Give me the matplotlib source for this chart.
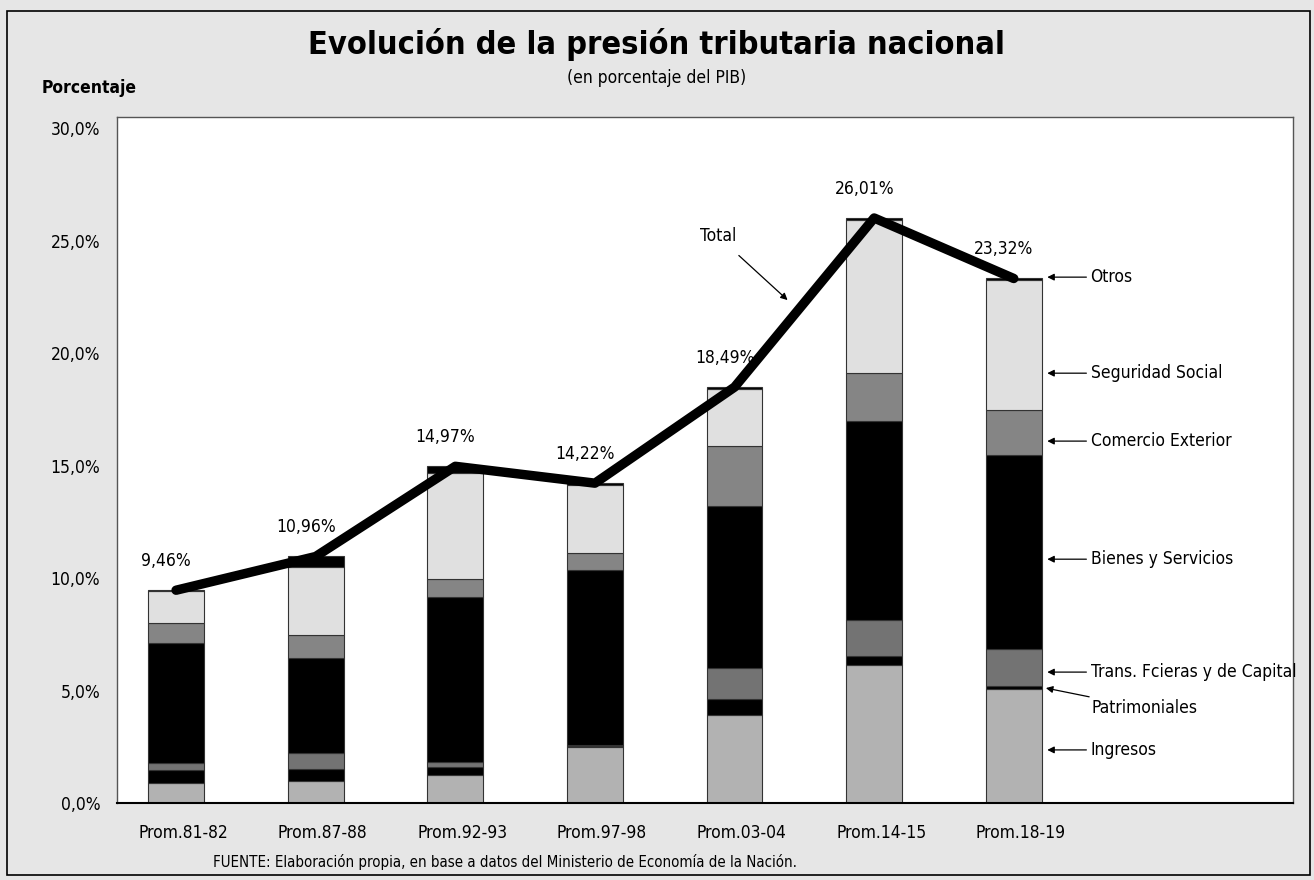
import matplotlib
matplotlib.use("Agg")
import matplotlib.pyplot as plt
from matplotlib import patches, font_manager
from matplotlib.transforms import ScaledTranslation

names = set(f.name for f in font_manager.fontManager.ttflist)
if "Liberation Sans Narrow" in names:
    NARROW = dict(family="Liberation Sans Narrow")
else:
    NARROW = dict(family="DejaVu Sans", stretch="condensed")

categorias = ["Prom.81-82", "Prom.87-88", "Prom.92-93", "Prom.97-98",
              "Prom.03-04", "Prom.14-15", "Prom.18-19"]
total = [9.46, 10.96, 14.97, 14.22, 18.49, 26.01, 23.32]

ingresos = [0.88, 0.99, 1.24, 2.50, 3.91, 6.12, 5.05]
patrimoniales = [0.59, 0.52, 0.35, 0.05, 0.71, 0.41, 0.15]
trans_fcieras = [0.29, 0.73, 0.23, 0.02, 1.38, 1.60, 1.63]
bienes_servicios = [5.36, 4.22, 7.35, 7.79, 7.20, 8.85, 8.64]
comercio_exterior = [0.87, 1.01, 0.79, 0.74, 2.67, 2.16, 2.00]
seguridad_social = [1.43, 3.03, 4.69, 3.06, 2.55, 6.80, 5.80]
otros = [0.04, 0.46, 0.32, 0.06, 0.07, 0.07, 0.05]

series = [
    ("Ingresos", ingresos, "#b2b2b2"),
    ("Patrimoniales", patrimoniales, "#000000"),
    ("Trans. Fcieras y de Capital", trans_fcieras, "#737373"),
    ("Bienes y Servicios", bienes_servicios, "#000000"),
    ("Comercio Exterior", comercio_exterior, "#858585"),
    ("Seguridad Social", seguridad_social, "#e0e0e0"),
    ("Otros", otros, "#000000"),
]

fig = plt.figure(figsize=(13.14, 8.8), dpi=100)
fig.patch.set_facecolor("#e6e6e6")
ax = fig.add_axes([117 / 1314, 77 / 880, 1176 / 1314, 686 / 880])
ax.set_facecolor("white")

x = list(range(len(categorias)))
base = [0.0] * len(categorias)
for nombre, vals, color in series:
    ax.bar(x, vals, width=0.4, bottom=base, color=color,
           edgecolor="#333333", linewidth=0.8, zorder=2)
    base = [b + v for b, v in zip(base, vals)]

ax.plot(x, total, color="black", linewidth=6.8, solid_capstyle="round",
        solid_joinstyle="round", zorder=3)

for xi, t in zip(x, total):
    ax.text(xi - 0.07, t + 0.9, f"{t:.2f}%".replace(".", ","), ha="center",
            va="bottom", fontsize=12.5, **NARROW)

ax.set_xlim(-0.423, 8.0)
ax.set_ylim(0, 30.5)
ax.set_yticks([0, 5, 10, 15, 20, 25, 30])
ax.set_yticklabels([f"{v:.1f}%".replace(".", ",") for v in [0, 5, 10, 15, 20, 25, 30]])
ax.set_xticks(x)
ax.set_xticklabels(categorias)
ax.tick_params(axis="y", length=0, pad=12)
ax.tick_params(axis="x", length=0, pad=15)
offset = ScaledTranslation(7 / 100, 0, fig.dpi_scale_trans)
for lab in ax.get_xticklabels():
    lab.set_transform(lab.get_transform() + offset)
for lab in ax.get_xticklabels() + ax.get_yticklabels():
    lab.set_fontsize(12.5)
    lab.set_fontfamily(NARROW["family"])
    if "stretch" in NARROW:
        lab.set_fontstretch(NARROW["stretch"])
for s in ax.spines.values():
    s.set_color("#555555")
    s.set_linewidth(1.0)
ax.spines["bottom"].set_color("black")
ax.spines["bottom"].set_linewidth(1.5)

# etiquetas de la serie a la derecha
etiquetas_y = [2.36, 4.22, 5.82, 10.84, 16.09, 19.11, 23.38]
for (nombre, vals, color), ly in zip(series, etiquetas_y):
    if nombre == "Patrimoniales":
        ax.annotate(nombre, xy=(6.23, 5.11), xytext=(6.56, ly), va="center",
                    ha="left", fontsize=12.5,
                    arrowprops=dict(arrowstyle="-|>", color="black", lw=0.9,
                                    shrinkA=0, shrinkB=0, mutation_scale=10),
                    **NARROW)
    else:
        ax.annotate(nombre, xy=(6.24, ly), xytext=(6.55, ly), va="center",
                    ha="left", fontsize=12.5,
                    arrowprops=dict(arrowstyle="-|>", color="black", lw=0.9,
                                    shrinkA=1, shrinkB=0, mutation_scale=10),
                    **NARROW)

ax.annotate("Total", xy=(4.38, 22.36), xytext=(3.88, 25.2), ha="center",
            va="center", fontsize=12.5,
            arrowprops=dict(arrowstyle="-|>", color="black", lw=0.9,
                            shrinkA=8, shrinkB=0, mutation_scale=10),
            **NARROW)

fig.text(0.4996, 0.949, "Evolución de la presión tributaria nacional",
         ha="center", va="center", fontsize=23.3, fontweight="bold",
         family="DejaVu Sans", stretch="condensed")
fig.text(0.5, 0.911, "(en porcentaje del PIB)", ha="center", va="center",
         fontsize=12.5, **NARROW)
fig.text(42 / 1314, 1 - 88 / 880, "Porcentaje", ha="left", va="center",
         fontsize=12.5, fontweight="bold", **NARROW)
fig.text(505 / 1314, 1 - 862 / 880,
         "FUENTE: Elaboración propia, en base a datos del Ministerio de Economía de la Nación.",
         ha="center", va="center", fontsize=10.8, **NARROW)

fig.add_artist(patches.Rectangle((7 / 1314, 5 / 880), 1303 / 1314, 864 / 880,
                                 transform=fig.transFigure, fill=False,
                                 edgecolor="black", linewidth=1.2))

fig.savefig("out.png", dpi=100, facecolor=fig.get_facecolor())
